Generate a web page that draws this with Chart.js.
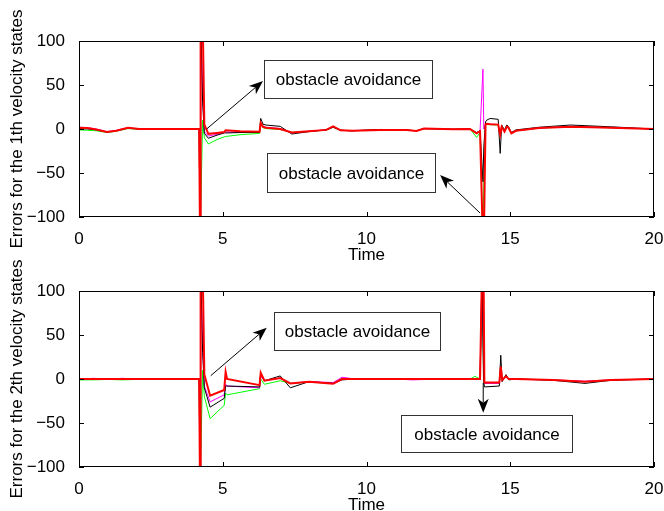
<!DOCTYPE html>
<html>
<head>
<meta charset="utf-8">
<script src="https://cdn.jsdelivr.net/npm/chart.js@4.4.0/dist/chart.umd.min.js"></script>
<style>
  body { margin: 0; background: #fff; }
  #wrap { position: relative; width: 664px; height: 511px; overflow: hidden; }
  canvas { position: absolute; left: 0; }
  #c1 { top: 0; }
  #c2 { top: 250px; }
</style>
</head>
<body>
<div id="wrap">
  <canvas id="c1" width="664" height="275"></canvas>
  <canvas id="c2" width="664" height="275"></canvas>
</div>
<script>
// time samples and errors, 1th velocity state
let t1 = [0, 0.3, 0.6, 0.97, 1.3, 1.7, 2.1, 3, 4.18, 4.21, 4.23, 4.3, 4.36, 4.5, 4.8, 5.05, 5.1, 5.6, 6.28, 6.32,
  6.4, 6.5, 7.0, 7.4, 8.0, 8.6, 8.84, 9.1, 9.5, 10.5, 11.4, 11.74, 12.0, 13.0, 13.6, 13.83, 13.95, 14.05, 14.08, 14.14,
  14.18, 14.3, 14.58, 14.65, 14.7, 14.8, 14.88, 14.93, 15.04, 15.2, 16.0, 17.1, 18.5, 20];
let red1 = [1.5, 1, -0.5, -3.5, -2, 1.5, 0, 0, 0, -130, 130, 130, 5, -5.5, -4.5, -3.5, -1.5, -2.5, -3, 7,
  2.5, 1.5, 0, -4, -2.5, -1, 3, -1.5, -2, -1, -1.2, -2.3, 0.5, -0.3, 0, -5, -2.5, -130, -130, 5,
  6, 5.5, 5, -6.5, 2.5, -3, 2.5, 2, -5, -2, 1, 2.6, 1.5, 0];
let black1 = [0.5, 0, -1, -3.5, -2, 1, 0, 0, 0, -130, 130, 30, -5, -10.5, -7, -4.5, -4.5, -4, -4, 12,
  5.5, 4.5, 3, -5.7, -3, -1, 2, -1.5, -2, -0.5, -1.2, -2, 0.5, -0.3, 0, -4, -2, -60, -20, 8,
  10, 12, 11, -27.7, 4.5, -1, 4.5, 3, -4, -1, 2, 4.5, 2.5, 0];
let magenta1 = [2, 1.5, 0, -3, -1.5, 1.5, 0, 0, 0, -130, 130, 40, -3, -8, -6, -4, -3.5, -3.5, -3.5, 6,
  3, 2, 0.5, -4.5, -2.5, -1, 3, -1.5, -2, -1, -1.2, -2.3, 0.5, -0.3, 0, -5, -2, 68, 0, 5,
  6, 5.5, 5, -5, 2.5, -2.5, 2.5, 2, -4.5, -2, 1, 3, 1.5, 0];
let green1 = [-1, -1.5, -2, -4, -2.5, 0.5, -0.5, 0, 0, -130, -130, 10, -10, -17, -12, -9, -8.5, -6.5, -5, 5,
  1.5, 0.5, -0.5, -4, -2.5, -1.2, 2, -1.5, -2, -1, -1.2, -2.3, 0.5, -0.3, 0, -9.5, -4, -130, -60, 4,
  5, 5, 4.5, -5, 2, -3, 2, 1.5, -5, -2, 1, 2.5, 1.5, 0];

// time samples and errors, 2th velocity state
let t2 = [0, 0.5, 1.0, 1.5, 2.0, 3.0, 4.18, 4.21, 4.23, 4.3, 4.36, 4.56, 5.05, 5.1, 5.15, 6.28, 6.32, 6.45, 7.0, 7.35,
  8.0, 8.84, 9.15, 9.6, 11.0, 11.6, 12.5, 13.6, 13.77, 13.95, 14.02, 14.07, 14.1, 14.62, 14.67, 14.72, 14.85, 14.95,
  15.2, 16.5, 17.6, 18.5, 20];
let red2 = [0, 0, 0, 0, 0, 0, 0, -130, 130, 130, 5, -19, -12.5, 8, 0, -7, 7, -2, 1, -5,
  -3, -5.5, 0, 0, 0, 0, 0, 0, 0, 0, 130, 130, -4, -4, 14, -1, 3, 0,
  0, -1, -3, -1, 0];
let black2 = [0.5, 0, 0.5, 0, 0, 0, 0, -130, 130, 30, -10, -32, -22, -8, -8, -9, 7, -2, 3.5, -10,
  -3, -5, -1, 0, 0, 0, 0, 0, 0, 0, 130, 0, -9, -8, 27, -3, 5, -1,
  0, -1.5, -5, -1.5, 0];
let magenta2 = [-0.5, 0.8, -0.5, 0.8, 0, 0, 0, -130, 130, 40, -8, -26, -18, -6, -8, -10, 3, -2, 1, -5,
  -3, -4, 2, 0, 0, -1, 0, 0, 0, 0, 130, 20, -5, -5, 10, -1, 3, 0,
  0, -1, -2.5, -1, 0];
let green2 = [-1, -1, -0.5, -1, -0.5, 0, 0, -130, -130, 10, -20, -45, -30, -16, -18, -11, 0, -6, -2, -5,
  -3.5, -5, 1, 0, 0, 0, 0, 0, 3, 0, 100, 10, -5, -5, 10, -1, 3, 0,
  0, -1, -3, -1, 0];

let xTicks = [0, 5, 10, 15, 20];
let yTicks = [-100, -50, 0, 50, 100];

// text boxes [t0, t1, v0, v1] and arrows [tFrom, vFrom, tTo, vTo]
let noteText = 'obstacle avoidance';
let boxes1 = [[6.43, 12.28, 78.4, 35.2], [6.54, 12.38, -27.3, -71.6]];
let arrows1 = [[4.44, 0, 6.4, 54.5], [13.95, -95.5, 12.56, -52.3]];
let boxes2 = [[6.78, 12.56, 76.1, 33], [11.2, 17.15, -40.9, -83]];
let arrows2 = [[4.58, 3.7, 6.53, 58.3], [14.06, -4.5, 14.06, -38.3]];

Chart.defaults.font.family = '"Liberation Sans", Arial, Helvetica, sans-serif';
Chart.defaults.font.size = 17;
Chart.defaults.color = '#000';

function pts(t, vals) {
  return t.map(function (x, i) { return { x: x, y: vals[i] }; });
}

function drawArrow(ctx, x0, y0, x1, y1) {
  let ang = Math.atan2(y1 - y0, x1 - x0);
  let len = 14, half = 5.5, notch = 10;
  let c = Math.cos(ang), s = Math.sin(ang);
  let bx = x1 - len * c, by = y1 - len * s;
  let nx = x1 - notch * c, ny = y1 - notch * s;
  ctx.beginPath();
  ctx.moveTo(x0, y0);
  ctx.lineTo(nx, ny);
  ctx.stroke();
  ctx.beginPath();
  ctx.moveTo(x1, y1);
  ctx.lineTo(bx - half * s, by + half * c);
  ctx.lineTo(nx, ny);
  ctx.lineTo(bx + half * s, by - half * c);
  ctx.closePath();
  ctx.fill();
}

// matlab style box, inner ticks and the annotations
let frame = {
  id: 'frame',
  afterDatasetsDraw(chart, args, opts) {
    let ctx = chart.ctx;
    let a = chart.chartArea;
    let x = chart.scales.x, y = chart.scales.y;
    ctx.save();
    ctx.strokeStyle = '#000';
    ctx.fillStyle = '#000';
    ctx.lineWidth = 1;
    ctx.strokeRect(a.left + 0.5, a.top + 0.5, a.width - 1, a.height - 1);
    ctx.beginPath();
    xTicks.forEach(function (v) {
      let px = Math.round(x.getPixelForValue(v)) + 0.5;
      ctx.moveTo(px, a.bottom); ctx.lineTo(px, a.bottom - 5);
      ctx.moveTo(px, a.top); ctx.lineTo(px, a.top + 5);
    });
    yTicks.forEach(function (v) {
      let py = Math.round(y.getPixelForValue(v)) + 0.5;
      ctx.moveTo(a.left, py); ctx.lineTo(a.left + 5, py);
      ctx.moveTo(a.right, py); ctx.lineTo(a.right - 5, py);
    });
    ctx.stroke();

    opts.arrows.forEach(function (r) {
      drawArrow(ctx, x.getPixelForValue(r[0]), y.getPixelForValue(r[1]),
        x.getPixelForValue(r[2]), y.getPixelForValue(r[3]));
    });
    opts.boxes.forEach(function (b) {
      let l = Math.round(x.getPixelForValue(b[0])) + 0.5;
      let r = Math.round(x.getPixelForValue(b[1])) + 0.5;
      let t = Math.round(y.getPixelForValue(b[2])) + 0.5;
      let btm = Math.round(y.getPixelForValue(b[3])) + 0.5;
      ctx.fillStyle = '#fff';
      ctx.fillRect(l, t, r - l, btm - t);
      ctx.strokeStyle = '#333';
      ctx.strokeRect(l, t, r - l, btm - t);
      ctx.fillStyle = '#000';
      ctx.font = '17px "Liberation Sans", Arial, sans-serif';
      ctx.textAlign = 'center';
      ctx.textBaseline = 'middle';
      ctx.fillText(noteText, (l + r) / 2, (t + btm) / 2 + 1);
    });
    ctx.restore();
  }
};

function makeChart(id, t, red, black, magenta, green, label, boxes, arrows) {
  return new Chart(document.getElementById(id), {
    type: 'line',
    data: {
      datasets: [
        { data: pts(t, red), borderColor: '#ff0000', borderWidth: 2 },
        { data: pts(t, black), borderColor: '#000000', borderWidth: 1 },
        { data: pts(t, magenta), borderColor: '#ff00ff', borderWidth: 1 },
        { data: pts(t, green), borderColor: '#00ff00', borderWidth: 1 }
      ]
    },
    options: {
      responsive: false,
      animation: false,
      devicePixelRatio: 1,
      layout: { padding: { top: 41, right: 10, left: 0, bottom: 0 } },
      elements: { point: { radius: 0 }, line: { tension: 0 } },
      plugins: {
        legend: { display: false },
        tooltip: { enabled: false },
        frame: { boxes: boxes, arrows: arrows }
      },
      scales: {
        x: {
          type: 'linear', min: 0, max: 20,
          grid: { display: false },
          border: { display: false },
          ticks: { stepSize: 5, padding: 4, maxRotation: 0 },
          title: { display: true, text: 'Time', padding: { top: 0, bottom: 9 } },
          afterFit: function (s) { s.height = 58; s.paddingLeft = 0; s.paddingRight = 0; }
        },
        y: {
          min: -100, max: 100,
          grid: { display: false },
          border: { display: false },
          ticks: {
            stepSize: 50, padding: 6,
            callback: function (v) { return String(v).replace('-', '\u2212'); }
          },
          title: { display: true, text: label, padding: { top: 7, bottom: 0 } },
          afterFit: function (s) { s.width = 79; s.paddingTop = 0; s.paddingBottom = 0; }
        }
      }
    },
    plugins: [frame]
  });
}

makeChart('c1', t1, red1, black1, magenta1, green1, 'Errors for the 1th velocity states', boxes1, arrows1);
makeChart('c2', t2, red2, black2, magenta2, green2, 'Errors for the 2th velocity states', boxes2, arrows2);
</script>
</body>
</html>
